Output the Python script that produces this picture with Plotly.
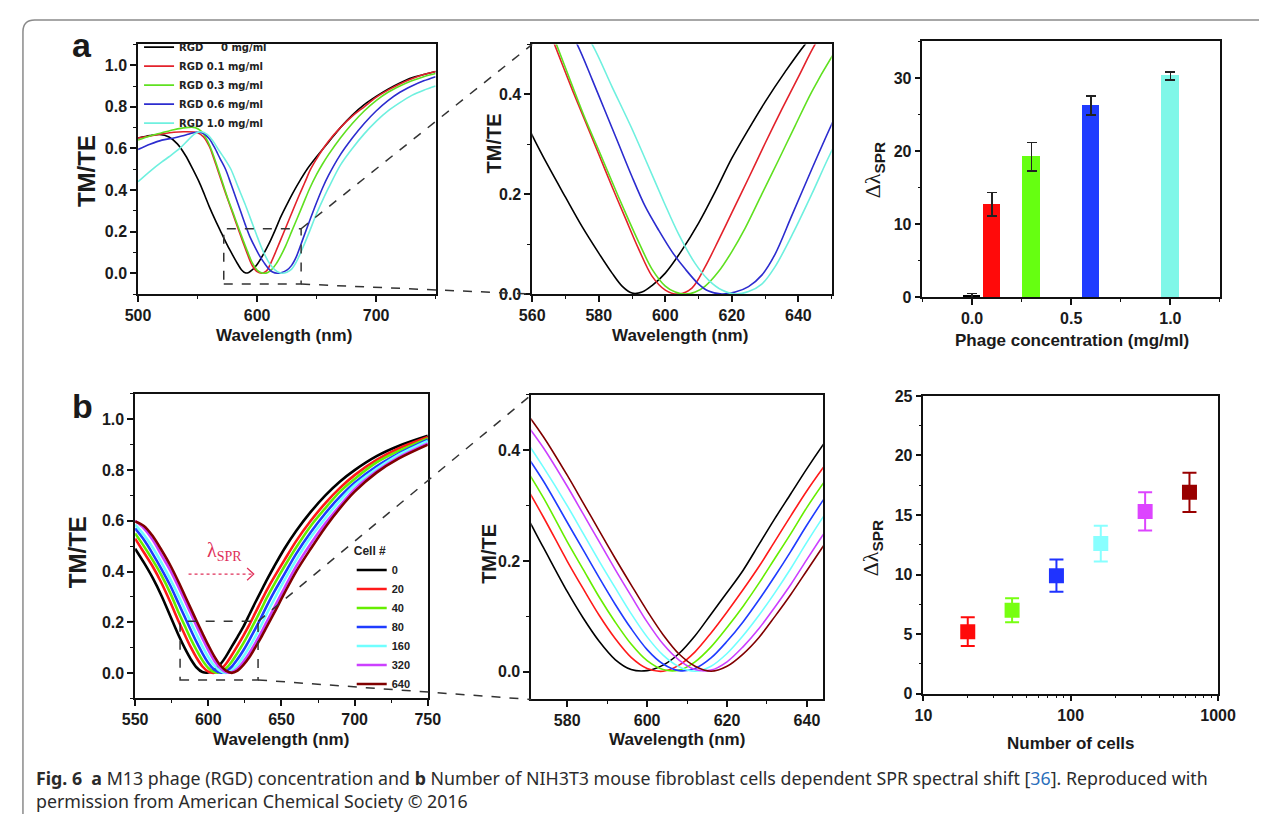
import plotly.graph_objects as go

# page geometry: the browser body keeps its default 8px margin, so the figure is drawn
# 8px in from the top-left corner of the 1285x831 window
OFF = 8
WF, HF = 1285 - 2 * OFF, 831 - 2 * OFF
FONT = "Liberation Sans, Arial, Helvetica, sans-serif"

# ---------------- Panel a: spectra for RGD phage concentrations ----------------
a_names = ["RGD \u2007\u2008 0 mg/ml", "RGD 0.1 mg/ml", "RGD 0.3 mg/ml", "RGD 0.6 mg/ml", "RGD 1.0 mg/ml"]
a_colors = ["#000000", "#e3222b", "#5fe020", "#2c2ccf", "#6ff0df"]

wl_a0 = [500, 510, 518, 526, 533, 540, 546, 552, 556, 560, 565, 570, 575, 580, 584, 587, 590, 593, 596, 600,
         605, 610, 615, 620, 625, 630, 636, 642, 650, 660, 670, 680, 690, 700, 710, 720, 730, 740, 750]
tm_a0 = [0.65, 0.662, 0.667, 0.655, 0.622, 0.565, 0.50, 0.43, 0.375, 0.318, 0.254, 0.194, 0.135, 0.082, 0.042,
         0.016, 0.002, 0.004, 0.017, 0.042, 0.088, 0.142, 0.205, 0.272, 0.33, 0.385, 0.445, 0.5, 0.56, 0.63, 0.70,
         0.76, 0.81, 0.85, 0.885, 0.915, 0.94, 0.955, 0.97]

wl_a1 = [500, 510, 520, 530, 540, 550, 555, 560, 563, 567, 572, 576, 580, 584, 588, 592, 596, 600, 604, 608,
         612, 616, 620, 625, 630, 635, 640, 645, 650, 655, 660, 670, 680, 690, 700, 710, 720, 730, 740, 750]
tm_a1 = [0.65, 0.66, 0.67, 0.678, 0.68, 0.675, 0.655, 0.608, 0.563, 0.495, 0.41, 0.345, 0.28, 0.215, 0.152, 0.09,
         0.036, 0.008, 0.0, 0.012, 0.055, 0.108, 0.163, 0.232, 0.302, 0.37, 0.435, 0.5, 0.55, 0.595, 0.635, 0.70,
         0.755, 0.80, 0.845, 0.88, 0.91, 0.935, 0.955, 0.97]

wl_a3 = [500, 510, 520, 530, 540, 548, 553, 558, 562, 567, 572, 576, 580, 584, 588, 592, 596, 600, 603, 606,
         609, 612, 616, 620, 624, 629, 634, 639, 644, 650, 655, 660, 670, 680, 690, 700, 710, 720, 730, 740, 750]
tm_a3 = [0.64, 0.66, 0.675, 0.69, 0.70, 0.70, 0.683, 0.64, 0.588, 0.505, 0.418, 0.35, 0.288, 0.225, 0.163, 0.104,
         0.05, 0.016, 0.004, 0.0, 0.004, 0.016, 0.045, 0.085, 0.132, 0.2, 0.268, 0.337, 0.405, 0.475, 0.525, 0.57,
         0.65, 0.72, 0.78, 0.83, 0.87, 0.90, 0.925, 0.945, 0.96]

wl_a6 = [500, 510, 520, 530, 540, 549, 555, 560, 564, 569, 573.5, 578, 582, 586, 590, 594, 598, 602, 606, 610,
         613, 617, 621, 625, 629, 633, 638, 644, 650, 655, 660, 670, 680, 690, 700, 710, 720, 730, 740, 750]
tm_a6 = [0.595, 0.62, 0.64, 0.65, 0.665, 0.678, 0.672, 0.645, 0.607, 0.55, 0.50, 0.43, 0.365, 0.30, 0.235, 0.175,
         0.128, 0.085, 0.05, 0.02, 0.006, 0.0, 0.004, 0.015, 0.038, 0.08, 0.157, 0.25, 0.34, 0.41, 0.47, 0.57,
         0.65, 0.72, 0.78, 0.83, 0.87, 0.90, 0.925, 0.945]

wl_a10 = [500, 510, 520, 526, 535, 542, 548, 553, 558, 563, 568, 573, 578, 584, 589.7, 594, 599.6, 604, 609, 613,
          617, 621, 625, 629, 633, 638.6, 644, 649.5, 655, 660, 670, 680, 690, 700, 710, 720, 730, 740, 750]
tm_a10 = [0.44, 0.49, 0.535, 0.56, 0.6, 0.64, 0.672, 0.68, 0.668, 0.635, 0.59, 0.548, 0.50, 0.415, 0.335, 0.27,
          0.184, 0.12, 0.061, 0.028, 0.008, 0.0, 0.005, 0.02, 0.055, 0.125, 0.2, 0.28, 0.35, 0.41, 0.52, 0.60,
          0.67, 0.73, 0.78, 0.82, 0.855, 0.88, 0.90]

a_wl = [wl_a0, wl_a1, wl_a3, wl_a6, wl_a10]
a_tm = [tm_a0, tm_a1, tm_a3, tm_a6, tm_a10]

# bar chart: SPR shift vs phage concentration
conc = [0.0, 0.1, 0.3, 0.6, 1.0]
shift_conc = [0.2, 12.7, 19.2, 26.2, 30.3]
shift_conc_err = [0.25, 1.6, 1.95, 1.3, 0.55]
bar_colors = ["#000000", "#ff0a0a", "#66ff11", "#1f3cff", "#7ff7e8"]

# ---------------- Panel b: spectra for cell numbers ----------------
b_names = ["0", "20", "40", "80", "160", "320", "640"]
b_colors = ["#000000", "#ff1a1a", "#66ee00", "#1f3cff", "#70ffff", "#cc40ff", "#800000"]
b_wl = [550, 556, 562, 568, 574, 580, 584, 588, 592, 596, 600, 604, 608, 612, 616, 620, 624, 628, 632, 636,
        640, 645, 652, 660, 670, 680, 690, 700, 715, 730, 750]
tm_b0 = [0.49, 0.435, 0.375, 0.305, 0.225, 0.145, 0.097, 0.055, 0.022, 0.004, 0.002, 0.012, 0.033, 0.065, 0.104,
         0.143, 0.183, 0.23, 0.277, 0.322, 0.367, 0.42, 0.49, 0.56, 0.635, 0.70, 0.755, 0.80, 0.855, 0.895, 0.935]
tm_b20 = [0.53, 0.475, 0.42, 0.355, 0.28, 0.2, 0.15, 0.102, 0.06, 0.026, 0.006, 0.001, 0.012, 0.036, 0.07,
          0.108, 0.148, 0.19, 0.236, 0.282, 0.327, 0.378, 0.445, 0.52, 0.60, 0.67, 0.73, 0.78, 0.84, 0.885, 0.93]
tm_b40 = [0.55, 0.50, 0.445, 0.385, 0.315, 0.235, 0.185, 0.135, 0.09, 0.05, 0.02, 0.004, 0.003, 0.018, 0.045,
          0.08, 0.118, 0.16, 0.205, 0.25, 0.297, 0.35, 0.42, 0.495, 0.58, 0.65, 0.715, 0.765, 0.83, 0.875, 0.925]
tm_b80 = [0.57, 0.525, 0.47, 0.41, 0.345, 0.27, 0.22, 0.17, 0.122, 0.078, 0.04, 0.014, 0.002, 0.006, 0.025,
          0.055, 0.09, 0.13, 0.173, 0.218, 0.265, 0.32, 0.39, 0.47, 0.555, 0.63, 0.695, 0.75, 0.815, 0.865, 0.92]
tm_b160 = [0.585, 0.545, 0.495, 0.435, 0.37, 0.3, 0.25, 0.2, 0.152, 0.105, 0.063, 0.03, 0.009, 0.001, 0.01,
           0.033, 0.065, 0.102, 0.143, 0.187, 0.234, 0.29, 0.365, 0.445, 0.535, 0.61, 0.68, 0.74, 0.805, 0.86, 0.915]
tm_b320 = [0.60, 0.57, 0.525, 0.465, 0.405, 0.335, 0.285, 0.235, 0.185, 0.137, 0.09, 0.05, 0.021, 0.004, 0.003,
           0.018, 0.045, 0.078, 0.117, 0.158, 0.203, 0.258, 0.335, 0.42, 0.51, 0.59, 0.66, 0.725, 0.795, 0.85, 0.905]
tm_b640 = [0.598, 0.58, 0.54, 0.485, 0.425, 0.355, 0.305, 0.255, 0.205, 0.157, 0.11, 0.067, 0.032, 0.01, 0.001,
           0.01, 0.032, 0.062, 0.1, 0.14, 0.183, 0.237, 0.315, 0.40, 0.49, 0.575, 0.65, 0.715, 0.79, 0.845, 0.90]
b_tm = [tm_b0, tm_b20, tm_b40, tm_b80, tm_b160, tm_b320, tm_b640]

# SPR shift vs number of cells
cells = [20, 40, 80, 160, 320, 640]
shift_cells = [5.2, 7.0, 9.9, 12.6, 15.3, 16.9]
shift_cells_err = [1.2, 1.0, 1.35, 1.5, 1.6, 1.65]
cell_colors = ["#ff0a0a", "#77ff11", "#1f33ff", "#88ffff", "#dd44ff", "#990000"]

# ---------------- layout geometry (window-pixel boxes of each plot area) ----------------
boxes = {
    1: ((128, 433), (37, 292)),
    2: ((532, 839), (37, 292)),
    3: ((932, 1237), (34, 295)),
    4: ((125, 425), (394, 705)),
    5: ((531, 830), (395, 706)),
    6: ((933, 1235), (396, 700)),
}
ranges = {
    1: ([500, 750], [-0.1, 1.1]),
    2: ([560, 650], [0, 0.5]),
    3: ([-0.25, 1.25], [0, 35]),
    4: ([550, 750], [-0.1, 1.1]),
    5: ([571, 644], [-0.05, 0.5]),
    6: ([1, 3], [0, 25]),
}


def px(x):
    return min(1.0, (x - OFF) / WF)


def py(y):
    return max(0.0, 1 - (y - OFF) / HF)


def dom(i):
    (x0, x1), (y0, y1) = boxes[i]
    return [px(x0), px(x1)], [py(y1), py(y0)]


def to_paper(i, x, y):
    xd, yd = dom(i)
    xr, yr = ranges[i]
    return (xd[0] + (x - xr[0]) / (xr[1] - xr[0]) * (xd[1] - xd[0]),
            yd[0] + (y - yr[0]) / (yr[1] - yr[0]) * (yd[1] - yd[0]))


fig = go.Figure()

# panel a spectra (full + zoom)
for k in range(5):
    fig.add_trace(go.Scatter(x=a_wl[k], y=a_tm[k], mode="lines", name=a_names[k],
                             line=dict(color=a_colors[k], width=1.6, shape="spline", smoothing=0.9),
                             xaxis="x", yaxis="y", legend="legend"))
for k in range(5):
    fig.add_trace(go.Scatter(x=a_wl[k], y=a_tm[k], mode="lines", showlegend=False,
                             line=dict(color=a_colors[k], width=1.6, shape="spline", smoothing=0.9),
                             xaxis="x2", yaxis="y2"))

# bar chart
fig.add_trace(go.Bar(x=conc, y=shift_conc, width=0.088, marker=dict(color=bar_colors, line=dict(width=0)),
                     error_y=dict(type="data", array=shift_conc_err, color="#222222", thickness=1.5, width=5),
                     showlegend=False, xaxis="x3", yaxis="y3"))

# panel b spectra
for k in range(7):
    fig.add_trace(go.Scatter(x=b_wl, y=b_tm[k], mode="lines", name=b_names[k],
                             line=dict(color=b_colors[k], width=2.6, shape="spline", smoothing=0.9),
                             xaxis="x4", yaxis="y4", legend="legend2"))
for k in range(7):
    fig.add_trace(go.Scatter(x=b_wl, y=b_tm[k], mode="lines", showlegend=False,
                             line=dict(color=b_colors[k], width=1.6, shape="spline", smoothing=0.9),
                             xaxis="x5", yaxis="y5"))

# shift vs number of cells
for k in range(len(cells)):
    fig.add_trace(go.Scatter(x=[cells[k]], y=[shift_cells[k]], mode="markers", showlegend=False,
                             marker=dict(symbol="square", size=15, color=cell_colors[k]),
                             error_y=dict(type="data", array=[shift_cells_err[k]], color=cell_colors[k],
                                          thickness=2, width=7),
                             xaxis="x6", yaxis="y6"))

tickfont = dict(family=FONT, size=16, color="#1a1a1a", weight="bold")


def axstyle(**kw):
    d = dict(showline=True, linecolor="#111111", linewidth=1.5, mirror=True, ticks="outside", ticklen=6,
             tickwidth=1.5, tickcolor="#111111", showgrid=False, zeroline=False, tickfont=tickfont,
             fixedrange=True)
    d.update(kw)
    return d


def minor(dt):
    return dict(ticks="outside", ticklen=3, tickwidth=1.2, tickcolor="#111111", dtick=dt, showgrid=False)


layout = dict(width=WF, height=HF, margin=dict(l=0, r=0, t=0, b=0), paper_bgcolor="white",
              plot_bgcolor="white", bargap=0, showlegend=True)

spec = {
    1: dict(x=dict(dtick=100, tick0=500, minor=minor(50)), y=dict(dtick=0.2, tick0=0, tickformat=".1f", minor=minor(0.1))),
    2: dict(x=dict(dtick=20, tick0=560, minor=minor(10)), y=dict(dtick=0.2, tick0=0, tickformat=".1f", minor=minor(0.1))),
    3: dict(x=dict(dtick=0.5, tick0=0, tickformat=".1f", minor=minor(0.25)), y=dict(dtick=10, tick0=0, minor=minor(5))),
    4: dict(x=dict(dtick=50, tick0=550, minor=minor(25)), y=dict(dtick=0.2, tick0=0, tickformat=".1f", minor=minor(0.1))),
    5: dict(x=dict(dtick=20, tick0=580, minor=minor(10)), y=dict(dtick=0.2, tick0=0, tickformat=".1f", minor=minor(0.1))),
    6: dict(x=dict(type="log", tickvals=[10, 100, 1000], ticktext=["10", "100", "1000"],
                   minor=dict(ticks="outside", ticklen=3, tickwidth=1.2, tickcolor="#111111", showgrid=False,
                              tickmode="array",
                              tickvals=[20, 30, 40, 50, 60, 70, 80, 90, 200, 300, 400, 500, 600, 700, 800, 900])),
            y=dict(dtick=5, tick0=0, minor=minor(2.5))),
}

for i in range(1, 7):
    xd, yd = dom(i)
    xr, yr = ranges[i]
    sfx = "" if i == 1 else str(i)
    layout["xaxis" + sfx] = axstyle(domain=xd, range=xr, anchor="y" + sfx, **spec[i]["x"])
    layout["yaxis" + sfx] = axstyle(domain=yd, range=yr, anchor="x" + sfx, **spec[i]["y"])

layout["legend"] = dict(x=px(129), y=py(25), xanchor="left", yanchor="top", bgcolor="rgba(0,0,0,0)",
                        font=dict(family="DejaVu Sans, sans-serif", size=10, color="#222", weight="bold"),
                        tracegroupgap=0, itemwidth=30)
layout["legend2"] = dict(x=px(347), y=py(543), xanchor="left", yanchor="top", bgcolor="rgba(0,0,0,0)",
                         font=dict(family=FONT, size=11, color="#222", weight="bold"), tracegroupgap=0,
                         itemwidth=30,
                         title=dict(text="Cell #", side="top", font=dict(family=FONT, size=12, weight="bold")))

annotations = []


def ann(text, x, y, size, angle=0, bold=True, color="#1a1a1a", **kw):
    a = dict(text=text, x=px(x), y=py(y), xref="paper", yref="paper", showarrow=False, textangle=angle,
             font=dict(family=FONT, size=size, color=color, weight="bold" if bold else "normal"),
             xanchor="center", yanchor="middle")
    a.update(kw)
    annotations.append(a)


ann("a", 71, 38, 34)
ann("b", 71, 406, 34)
ann("TM/TE", 75, 166, 24, -90)
ann("Wavelength (nm)", 278, 334, 17)
ann("TM/TE", 493, 138, 20, -90)
ann("Wavelength (nm)", 684, 334, 17)
dl_title = "<span style='font-family:Liberation Serif'>\u0394\u03bb</span><sub><b>SPR</b></sub>"
ann(dl_title, 882, 166, 22, -90, bold=False)
ann("Phage concentration (mg/ml)", 1085, 339, 17)
ann("TM/TE", 66, 556, 24, -90)
ann("Wavelength (nm)", 275, 747, 17)
ann("TM/TE", 487, 557, 20, -90)
ann("Wavelength (nm)", 680, 747, 17)
ann(dl_title, 880, 552, 22, -90, bold=False)
ann("Number of cells", 1084, 751, 17)

# lambda_SPR marker in panel b
annotations.append(dict(text="\u03bb<sub>SPR</sub>", x=611, y=0.48, xref="x4", yref="y4", showarrow=False,
                        font=dict(family="Liberation Serif, serif", size=20, color="#e0305a")))

caption = ("<b>Fig. 6</b>  <b>a</b> M13 phage (RGD) concentration and <b>b</b> Number of NIH3T3 mouse fibroblast "
           "cells dependent SPR spectral shift [<span style='color:#2a6ebb'>36</span>]. Reproduced with<br>"
           "permission from American Chemical Society \u00a9 2016")
annotations.append(dict(text=caption, x=px(21), y=py(772), xref="paper", yref="paper", showarrow=False,
                        xanchor="left", yanchor="top", align="left",
                        font=dict(family="Noto Sans, Open Sans, sans-serif", size=17.8, color="#2b2b2b")))
layout["annotations"] = annotations

shapes = []
dash_line = dict(color="#333333", width=1.5, dash="dash")
# zoom boxes
shapes.append(dict(type="rect", xref="x", yref="y", x0=572, x1=637, y0=-0.052, y1=0.214, line=dash_line))
shapes.append(dict(type="rect", xref="x4", yref="y4", x0=580.7, x1=634, y0=-0.027, y1=0.204, line=dash_line))
# connectors
for (i, xa, ya, j, xb, yb) in [(1, 637, 0.214, 2, 560, 0.5), (1, 637, -0.052, 2, 560, 0.0),
                               (4, 634, 0.204, 5, 571, 0.5), (4, 634, -0.027, 5, 571, -0.05)]:
    p0 = to_paper(i, xa, ya)
    p1 = to_paper(j, xb, yb)
    shapes.append(dict(type="line", xref="paper", yref="paper", x0=p0[0], y0=p0[1], x1=p1[0], y1=p1[1],
                       line=dash_line))
# dashed arrow for lambda_SPR
shapes.append(dict(type="line", xref="x4", yref="y4", x0=586.5, x1=630.5, y0=0.39, y1=0.39,
                   line=dict(color="#e0305a", width=1.3, dash="dot")))
shapes.append(dict(type="path", xref="x4", yref="y4", path="M 626.5,0.414 L 631,0.39 L 626.5,0.366",
                   line=dict(color="#e0305a", width=1.3)))
# figure frame
shapes.append(dict(type="path", xref="paper", yref="paper",
                   path="M %f,%f L %f,%f Q %f,%f %f,%f L %f,%f" % (px(10), 0.0, px(10), py(24), px(10), py(12),
                                                                 px(22), py(12), 1.0, py(12)),
                   line=dict(color="#8a8a8a", width=1.5)))
layout["shapes"] = shapes

fig.update_layout(**layout)
fig.write_html("out.html", include_plotlyjs=True, config={"displayModeBar": False})
